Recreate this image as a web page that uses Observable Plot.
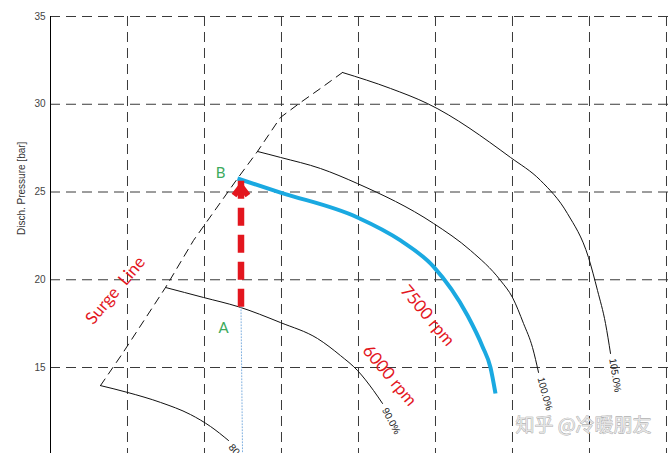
<!DOCTYPE html>
<html><head><meta charset="utf-8">
<script src="https://cdn.jsdelivr.net/npm/d3@7"></script>
<script src="https://cdn.jsdelivr.net/npm/@observablehq/plot@0.6"></script>
<style>html,body{margin:0;padding:0;background:#fff;}#chart svg{display:block;}</style>
</head><body><div id="chart"></div>
<script>
// y ticks (bar) and vertical grid positions (grid units)
const yTicks = [15, 20, 25, 30, 35];
const xGrid = [1, 2, 3, 4, 5, 6, 7, 8];

// speed curves: [x (grid units), discharge pressure (bar)]
const speed80 = [[0.649,13.97],[1.0,13.58],[1.429,13.01],[1.818,12.32],[2.078,11.64],[2.312,10.84]];
const speed90 = [[1.494,19.56],[1.987,18.99],[2.442,18.46],[2.987,17.56],[3.468,16.65],[3.766,15.68],[3.987,14.83],[4.195,13.69],[4.312,12.95]];
const speed100 = [[2.688,27.31],[2.987,26.97],[3.506,26.34],[3.987,25.48],[4.974,23.21],[5.455,21.67],[5.844,19.96],[6.0,18.99],[6.143,17.51],[6.26,16.14],[6.338,14.72]];
const speed105 = [[3.792,31.81],[4.416,30.9],[4.896,30.04],[5.974,26.97],[6.364,25.66],[6.714,23.77],[6.987,21.27],[7.104,19.39],[7.208,17.51],[7.273,15.8]];
const speed7500 = [[2.429,25.77],[2.987,24.97],[3.987,23.55],[4.545,22.24],[4.974,20.75],[5.416,17.96],[5.61,16.2],[5.714,15.0],[5.779,13.52]];
const surge = [[0.649,13.97],[0.935,15.8],[1.494,19.56],[1.857,22.24],[2.429,25.77],[2.688,27.31],[2.987,29.25],[3.247,30.1],[3.506,30.9],[3.792,31.81]];

// operating points
const pointA = [2.474, 18.46];
const pointB = [2.429, 25.77];
const dropLine = [[2.474, 18.46], [2.494, 10.1]];

// curve end labels
const curveLabels = ["80.0%", "90.0%", "100.0%", "105.0%"];
const curveEnds = [speed80, speed90, speed100, speed105].map(c => c[c.length - 1]);
const labelAngles = [50, 62, 75, 81];

// annotations
const annotations = [
  {text: "Surge  Line", x: 0.844, y: 19.39, rotate: -50},
  {text: "7500 rpm", x: 4.896, y: 17.96, rotate: 50},
  {text: "6000 rpm", x: 4.403, y: 14.54, rotate: 50}
];
const pointLabels = [
  {text: "A", x: 2.247, y: 17.22},
  {text: "B", x: 2.208, y: 26.05}
];
const watermark = {text: "知乎 @冷暖朋友", x: 6.922, y: 11.70};

const chevron = {
  draw(ctx, size) {
    const s = Math.sqrt(size / Math.PI) / 6;
    ctx.moveTo(-7 * s, 17 * s);
    ctx.lineTo(0, 8 * s);
    ctx.lineTo(7 * s, 17 * s);
  }
};

const X = d => d[0], Y = d => d[1];
const red = "#e3161e";

const chart = Plot.plot({
  width: 672, height: 453,
  marginTop: 16, marginLeft: 50, marginRight: 0, marginBottom: 0,
  x: {domain: [0, 8.078], axis: null},
  y: {domain: [10.1, 35], axis: null},
  style: {fontFamily: "'Liberation Sans', Arial, sans-serif", background: "#fff"},
  marks: [
    Plot.ruleX(xGrid, {stroke: "#3a3a3a", strokeDasharray: "10,6"}),
    Plot.ruleY(yTicks, {stroke: "#3a3a3a", strokeDasharray: "10,6"}),
    Plot.ruleX([0], {stroke: "#000"}),
    Plot.axisY(yTicks, {tickSize: 0, tickPadding: 5, fontSize: 10, fill: "#444", label: null}),
    Plot.text(["Disch. Pressure [bar]"], {frameAnchor: "left", dx: -29, rotate: -90, fontSize: 10, fill: "#333"}),
    Plot.line(surge, {x: X, y: Y, stroke: "#111", strokeWidth: 1, strokeDasharray: "8,6"}),
    Plot.line(speed80, {x: X, y: Y, curve: "monotone-x", stroke: "#111", strokeWidth: 1}),
    Plot.line(speed90, {x: X, y: Y, curve: "monotone-x", stroke: "#111", strokeWidth: 1}),
    Plot.line(speed100, {x: X, y: Y, curve: "monotone-x", stroke: "#111", strokeWidth: 1}),
    Plot.line(speed105, {x: X, y: Y, curve: "monotone-x", stroke: "#111", strokeWidth: 1}),
    Plot.line(dropLine, {x: X, y: Y, stroke: "#7fb0e0", strokeWidth: 1, strokeDasharray: "1,2"}),
    Plot.line(speed7500, {x: X, y: Y, curve: "monotone-x", stroke: "#1aa9e1", strokeWidth: 4, strokeLinecap: "butt"}),
    Plot.line([pointA, [pointA[0], pointB[1]]], {x: X, y: Y, stroke: red, strokeWidth: 6.5, strokeDasharray: "18,9", strokeLinecap: "butt"}),
    Plot.dot([[pointA[0], pointB[1]]], {x: X, y: Y, symbol: chevron, r: 6, fill: "none", stroke: red, strokeWidth: 6, strokeLinejoin: "miter"}),
    Plot.text(curveEnds, {x: X, y: Y, text: (d, i) => curveLabels[i], rotate: (d, i) => labelAngles[i], textAnchor: "start", dx: 2, dy: 5, fontSize: 10, fill: "#222"}),
    Plot.text(annotations, {x: "x", y: "y", text: "text", rotate: "rotate", fontSize: 17, fill: red, fontFamily: "Lato, sans-serif"}),
    Plot.text(pointLabels, {x: "x", y: "y", text: "text", fontSize: 15, fill: "#3daa5c", fontFamily: "Lato, sans-serif"}),
    Plot.text([watermark], {x: "x", y: "y", text: "text", fontSize: 19, fill: "#e4e4e4", stroke: "#9c9c9c", strokeWidth: 0.7, fontFamily: "'Noto Sans CJK SC', sans-serif"})
  ]
});
document.getElementById("chart").appendChild(chart);
</script>
</body></html>
